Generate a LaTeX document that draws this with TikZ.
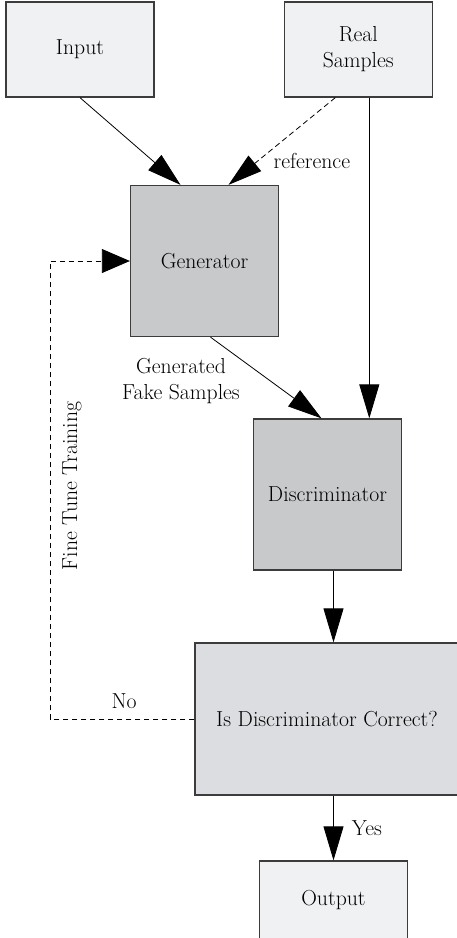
\documentclass[tikz,border=0pt]{standalone}
\usepackage{tikz}
\usetikzlibrary{arrows.meta}
\usetikzlibrary{positioning}

\definecolor{paleblock}{RGB}{240, 241, 243}
\definecolor{greyblock}{RGB}{200, 201, 203}
\definecolor{testblock}{RGB}{220, 221, 224}
\definecolor{rim}{RGB}{60, 60, 60}

\begin{document}
\begin{tikzpicture}[
      x=1pt, y=-1pt,
      box/.style={rectangle, draw=rim, line width=1.3pt, align=center,
        minimum width=148pt, minimum height=95pt, inner sep=2pt,
        font=\fontsize{21.7}{26}\selectfont},
      source/.style={box, fill=paleblock},
      model/.style={box, fill=greyblock, minimum height=151pt},
      check/.style={box, fill=testblock, minimum width=264pt, minimum height=152pt},
      label/.style={font=\fontsize{21.7}{26}\selectfont, align=center, inner sep=1pt},
      flow/.style={-{Triangle[length=34pt, width=20pt]}, line width=0.8pt},
      loop/.style={-{Triangle[length=28pt, width=24pt]}, line width=0.8pt,
        dash pattern=on 5.5pt off 3.5pt}
    ]
      \useasboundingbox (0,0) rectangle (456,938);

      \node [source] (input) at (80,49.5) {Input};
      \node [source, right=129pt of input] (real) {Real\\Samples};
      \node [model] (generator) at (204.5,261) {Generator};
      \node [model] (discriminator) at (327.5,494.5) {Discriminator};
      \node [check] (correct) at (327,719) {Is Discriminator Correct?};
      \node [source, minimum height=79pt] (output) at (333.5,900.5) {Output};

      \draw [flow] (input.south) -- ([xshift=-24pt]generator.north);
      \draw [flow, dash pattern=on 5.5pt off 3.5pt] ([xshift=-23pt]real.south)
            -- ([xshift=24pt]generator.north)
            node [label, pos=0.75, anchor=west, xshift=17pt, yshift=2pt] {reference};
      \draw [flow] ([xshift=11pt]real.south) -- ([xshift=11pt]real.south |- discriminator.north);
      \draw [flow] ([xshift=6pt]generator.south) -- ([xshift=-6pt]discriminator.north);
      \node [label] (fake) at (181,381) {Generated\\Fake Samples};
      \draw [flow] ([xshift=6pt]discriminator.south) -- ([xshift=6pt]discriminator.south |- correct.north);
      \draw [flow] (output.north |- correct.south) -- (output.north)
            node [label, midway, anchor=west, xshift=17pt] {Yes};

      % feedback loop
      \coordinate (corner) at (50,0);
      \draw [loop] (correct.west) -| (corner |- generator.west) -- (generator.west);
      \node [label] (no) at (124,701) {No};
      \node [label, rotate=90] (tune) at (72,486) {Fine Tune Training};
\end{tikzpicture}
\end{document}
